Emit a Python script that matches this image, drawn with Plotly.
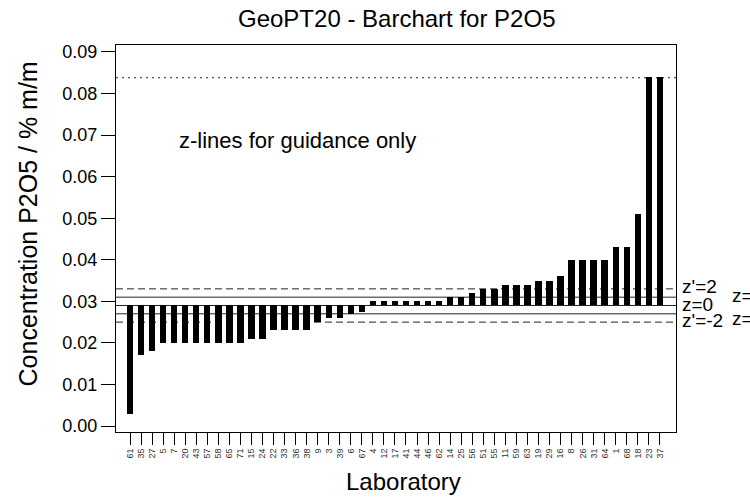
import plotly.graph_objects as go

labs = ["61","35","27","5","7","20","43","57","58","65","71","15","24","22","33","36","38",
        "9","3","39","6","67","4","12","17","41","44","46","62","14","25","56","51","55",
        "11","59","63","19","29","16","8","26","31","64","1","68","18","23","37"]
values = [0.003,0.017,0.018,0.020,0.020,0.020,0.020,0.020,0.020,0.020,0.020,0.021,0.021,
          0.023,0.023,0.023,0.023,0.025,0.026,0.026,0.027,0.0275,0.030,0.030,0.030,0.030,
          0.030,0.030,0.030,0.031,0.031,0.032,0.033,0.033,0.034,0.034,0.034,0.035,0.035,
          0.036,0.040,0.040,0.040,0.040,0.043,0.043,0.051,0.084,0.084]
assigned = 0.029
z_lines = [0.031, 0.027]
zp_lines = [0.033, 0.025]
max_line = 0.0838
y_ticks = [0.00,0.01,0.02,0.03,0.04,0.05,0.06,0.07,0.08,0.09]

x = list(range(len(labs)))
FONT = "Liberation Sans, Arial, sans-serif"

fig = go.Figure()
fig.add_trace(go.Bar(x=x, y=[v - assigned for v in values], base=assigned,
                     width=0.58, marker=dict(color="black", line=dict(width=0)),
                     showlegend=False, hoverinfo="skip"))

shapes = []
def hline(y, dash, color="#222"):
    shapes.append(dict(type="line", xref="paper", yref="y", x0=0, x1=1, y0=y, y1=y,
                       line=dict(color=color, width=1, dash=dash), layer="below"))
hline(assigned, "solid")
for v in z_lines:
    hline(v, "solid")
for v in zp_lines:
    hline(v, "7px,4px")
hline(max_line, "2px,4px")

ann = []
ann.append(dict(text="GeoPT20 - Barchart for P2O5", xref="paper", yref="paper", x=0.5, y=1,
                yshift=27, xanchor="center", yanchor="middle", showarrow=False,
                font=dict(size=24, color="black", family=FONT)))
ann.append(dict(text="Laboratory", xref="paper", yref="paper", x=0.5, y=0, xshift=7,
                yshift=-49, xanchor="center", yanchor="middle", showarrow=False,
                font=dict(size=24, color="black", family=FONT)))
ann.append(dict(text="Concentration P2O5 / % m/m", xref="paper", yref="y", x=0, y=0.0485,
                xshift=-88, xanchor="center", yanchor="middle", textangle=-90, showarrow=False,
                font=dict(size=25, color="black", family=FONT)))
ann.append(dict(text="z-lines for guidance only", xref="x", yref="y", x=4.3, y=0.0688,
                xanchor="left", yanchor="middle", showarrow=False,
                font=dict(size=22, color="black", family=FONT)))
for txt, yv, ys in [("z'=2", zp_lines[0], 2), ("z=0", assigned, 1), ("z'=-2", zp_lines[1], 2)]:
    ann.append(dict(text=txt, xref="paper", yref="y", x=1, xshift=4, y=yv, yshift=ys,
                    xanchor="left", yanchor="middle", showarrow=False,
                    font=dict(size=19, color="black", family=FONT)))
for txt, yv, ys in [("z=2", z_lines[0], 2), ("z=-2", z_lines[1], -5)]:
    ann.append(dict(text=txt, xref="paper", yref="y", x=1, xshift=54, y=yv, yshift=ys,
                    xanchor="left", yanchor="middle", showarrow=False,
                    font=dict(size=19, color="black", family=FONT)))

fig.update_layout(
    width=750, height=497,
    margin=dict(l=116, r=74, t=45, b=65),
    paper_bgcolor="white", plot_bgcolor="white",
    shapes=shapes, annotations=ann,
    bargap=0,
    xaxis=dict(range=[-1.27, 49.46], tickmode="array", tickvals=x, ticktext=labs,
               tickangle=-90, ticks="outside", ticklen=12, tickwidth=1, tickcolor="black",
               tickfont=dict(size=9, color="#333", family=FONT),
               showline=True, linecolor="black", linewidth=1, mirror=True,
               showgrid=False, zeroline=False, fixedrange=True),
    yaxis=dict(range=[-0.00144, 0.09168], tickmode="array", tickvals=y_ticks,
               ticktext=[f"{v:.2f}" for v in y_ticks],
               ticks="outside", ticklen=14, tickwidth=1, tickcolor="black",
               tickfont=dict(size=18, color="black", family=FONT),
               showline=True, linecolor="black", linewidth=1, mirror=True,
               showgrid=False, zeroline=False, fixedrange=True),
)
fig.write_html("out.html", config={"displayModeBar": False},
               post_script="document.body.style.margin='0';document.body.style.overflow='hidden';")
